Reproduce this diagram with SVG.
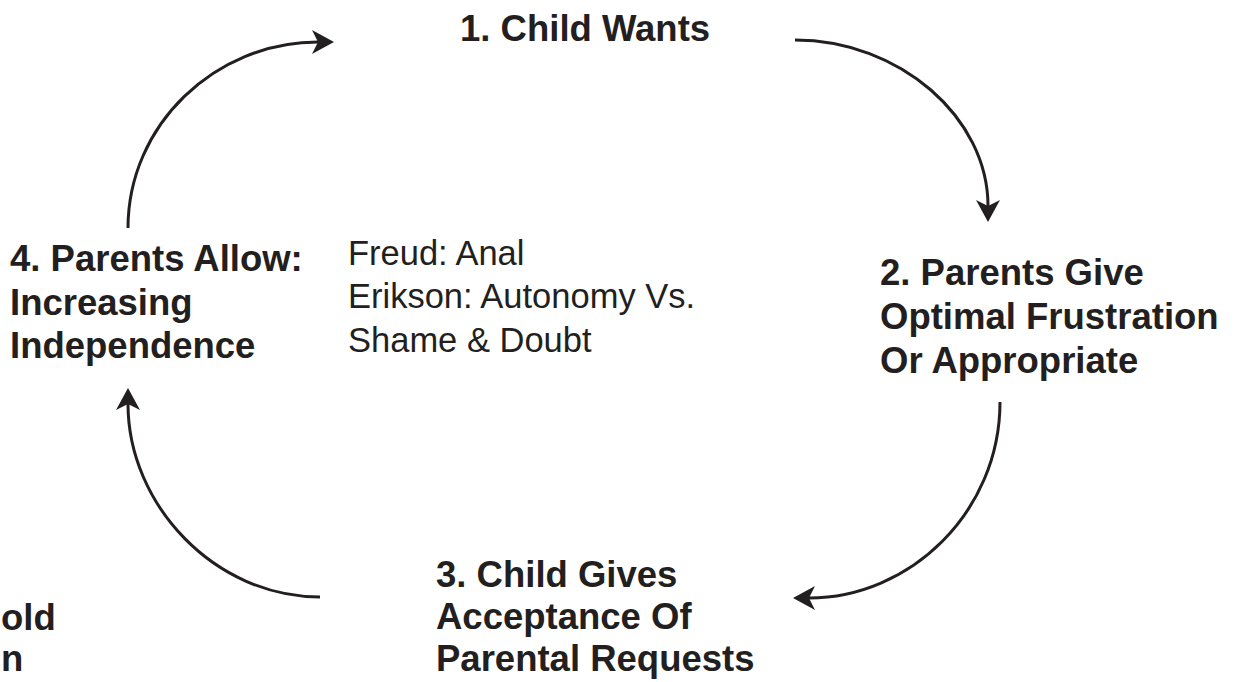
<svg xmlns="http://www.w3.org/2000/svg" width="1239" height="682" viewBox="0 0 1239 682">
<style>
.b{font-family:"Liberation Sans",Arial,sans-serif;font-weight:bold;font-size:36.5px;fill:#231f20}
.r{font-family:"Liberation Sans",Arial,sans-serif;font-size:34.5px;fill:#231f20}
.c{fill:none;stroke:#231f20;stroke-width:3}
</style>
<defs>
<marker id="ah" markerUnits="userSpaceOnUse" viewBox="-8 -13 26 26" markerWidth="26" markerHeight="26" refX="0" refY="0" orient="auto">
<path d="M16,0 L-6,-12 L0,0 L-6,12 Z" fill="#231f20"/>
</marker>
</defs>
<rect width="1239" height="682" fill="#fff"/>
<g id="connectors">
<path class="c" d="M128,228 C128,125 215,42 318,42" marker-end="url(#ah)"/>
<path class="c" d="M795,40 C900,40 988,118 988,206" marker-end="url(#ah)"/>
<path class="c" d="M1000,402 C1000,512 910,598 809,598" marker-end="url(#ah)"/>
<path class="c" d="M320,597 C215,597 128,505 128,404" marker-end="url(#ah)"/>
</g>
<g id="node1"><text class="b" x="460" y="41">1. Child Wants</text></g>
<g id="node2"><text class="b" x="880" y="285">2. Parents Give</text><text class="b" x="880" y="329">Optimal Frustration</text><text class="b" x="880" y="373">Or Appropriate</text></g>
<g id="node3"><text class="b" x="436" y="587">3. Child Gives</text><text class="b" x="436" y="629">Acceptance Of</text><text class="b" x="436" y="671">Parental Requests</text></g>
<g id="node4"><text class="b" x="10" y="271">4. Parents Allow:</text><text class="b" x="10" y="315">Increasing</text><text class="b" x="10" y="358">Independence</text></g>
<g id="center"><text class="r" x="348" y="265">Freud: Anal</text><text class="r" x="348" y="308">Erikson: Autonomy Vs.</text><text class="r" x="348" y="352">Shame &amp; Doubt</text></g>
<g id="fragment"><text class="b" x="1" y="630">old</text><text class="b" x="1" y="671">n</text></g>
</svg>
